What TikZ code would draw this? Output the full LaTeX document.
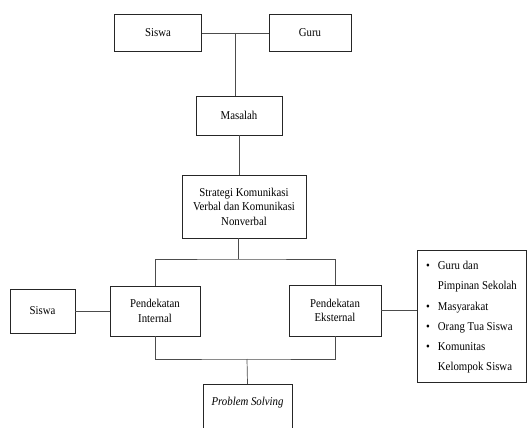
\documentclass[tikz,border=0pt]{standalone}
\usepackage{fontspec}
\setmainfont{Liberation Serif}[FakeStretch=0.9]
\usepackage{tikz}
\usetikzlibrary{calc}

\begin{document}
\begin{tikzpicture}[x=1pt,y=-1pt,
    box/.style={draw=black!85, line width=0.7pt, inner sep=0pt, align=center, font=\fontsize{12}{14.5}\selectfont},
    wire/.style={draw=black!70, line width=0.7pt}]
    \useasboundingbox (0,0) rectangle (527,428);
    \clip (0,0) rectangle (527,428);
    % top
    \node[box, minimum width=87pt, minimum height=37pt] (siswaA) at (158,33) {Siswa};
    \node[box, minimum width=82pt, minimum height=37pt] (guru) at (310,33) {Guru};
    \node[box, minimum width=86pt, minimum height=39pt] (masalah) at (239,115.5) {Masalah};
    \node[box, minimum width=124pt, minimum height=63pt] (strategi) at (244,206.5)
      {Strategi Komunikasi\\Verbal dan Komunikasi\\Nonverbal};
    % middle
    \node[box, minimum width=90pt, minimum height=50pt] (internal) at (155,311) {Pendekatan\\Internal};
    \node[box, minimum width=92pt, minimum height=51pt] (eksternal) at (335,310.5) {Pendekatan\\Eksternal};
    \node[box, minimum width=65pt, minimum height=44pt] (siswaB) at (42.5,311) {Siswa};
    \node[box, minimum width=109pt, minimum height=132pt, align=left] (pihak) at (471.5,316)
      {\renewcommand{\arraystretch}{1.38}%
       \begin{tabular}{@{}l@{\hspace{8pt}}l@{}}
       \textbullet & Guru dan\\
                   & Pimpinan Sekolah\\
       \textbullet & Masyarakat\\
       \textbullet & Orang Tua Siswa\\
       \textbullet & Komunitas\\
                   & Kelompok Siswa
       \end{tabular}};
    % bottom
    \node[box, anchor=north, minimum width=89pt, inner ysep=0pt, text height=21pt, text depth=45pt]
      (solving) at (247.5,384) {\textit{Problem Solving}};
    % connectors
    \coordinate (topmid) at ($(siswaA.east)!0.5!(guru.west)$);
    \coordinate (busT) at (238,259);
    \coordinate (busB) at (247,359);
    \draw[wire] (siswaA.east) -- (guru.west);
    \draw[wire] (topmid) -- (topmid |- masalah.north);
    \draw[wire] (masalah.south) -- (masalah.south |- strategi.north);
    \draw[wire] (strategi.south -| busT) -- (busT);
    \draw[wire] (internal.north) |- (busT) -| (eksternal.north);
    \draw[wire] (internal.south) |- (busB) -| (eksternal.south);
    \draw[wire] (busB) -- (solving.north);
    \draw[wire] (siswaB.east) -- (internal.west);
    \draw[wire] (eksternal.east) -- (eksternal.east -| pihak.west);
\end{tikzpicture}
\end{document}
